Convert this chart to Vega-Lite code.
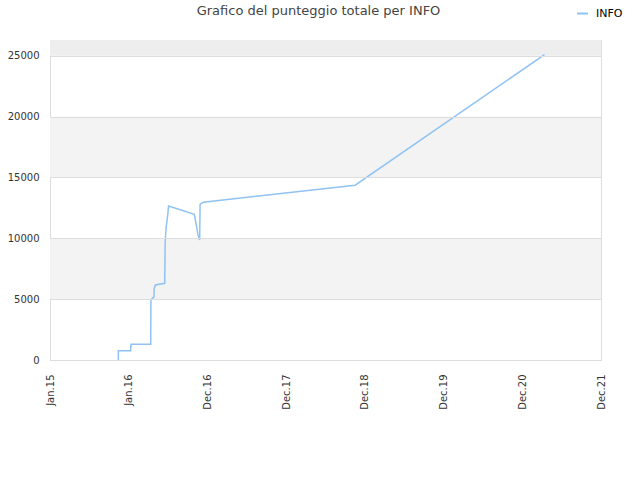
{
  "$schema": "https://vega.github.io/schema/vega-lite/v6.json",
  "autosize": "none",
  "width": 551,
  "height": 320,
  "padding": {"left": 50, "top": 40, "right": 39, "bottom": 120},
  "background": "white",
  "title": {
    "text": "Grafico del punteggio totale per INFO",
    "font": "DejaVu Sans",
    "fontSize": 13,
    "fontWeight": "normal",
    "color": "#444444",
    "baseline": "bottom",
    "offset": -24,
    "dx": -7
  },
  "datasets": {
    "bands": [
      {"lo": 5000, "hi": 10000, "tone": "light"},
      {"lo": 15000, "hi": 20000, "tone": "light"},
      {"lo": 25000, "hi": 26300, "tone": "dark"}
    ],
    "scores": [
      {"i": 1, "date": "2015-11-14", "score": 0, "series": "INFO"},
      {"i": 2, "date": "2015-11-14", "score": 765, "series": "INFO"},
      {"i": 3, "date": "2016-01-10", "score": 765, "series": "INFO"},
      {"i": 4, "date": "2016-01-10", "score": 1100, "series": "INFO"},
      {"i": 5, "date": "2016-01-12", "score": 1100, "series": "INFO"},
      {"i": 6, "date": "2016-01-12", "score": 1290, "series": "INFO"},
      {"i": 7, "date": "2016-04-12", "score": 1290, "series": "INFO"},
      {"i": 8, "date": "2016-04-13", "score": 4930, "series": "INFO"},
      {"i": 9, "date": "2016-04-21", "score": 5100, "series": "INFO"},
      {"i": 10, "date": "2016-04-27", "score": 5150, "series": "INFO"},
      {"i": 11, "date": "2016-04-28", "score": 5840, "series": "INFO"},
      {"i": 12, "date": "2016-05-04", "score": 6170, "series": "INFO"},
      {"i": 13, "date": "2016-06-16", "score": 6300, "series": "INFO"},
      {"i": 14, "date": "2016-06-18", "score": 9600, "series": "INFO"},
      {"i": 15, "date": "2016-06-22", "score": 10830, "series": "INFO"},
      {"i": 16, "date": "2016-06-29", "score": 11780, "series": "INFO"},
      {"i": 17, "date": "2016-07-04", "score": 12660, "series": "INFO"},
      {"i": 18, "date": "2016-10-31", "score": 11980, "series": "INFO"},
      {"i": 19, "date": "2016-11-11", "score": 10960, "series": "INFO"},
      {"i": 20, "date": "2016-11-17", "score": 10280, "series": "INFO"},
      {"i": 21, "date": "2016-11-25", "score": 9870, "series": "INFO"},
      {"i": 22, "date": "2016-11-27", "score": 12800, "series": "INFO"},
      {"i": 23, "date": "2016-12-12", "score": 12970, "series": "INFO"},
      {"i": 24, "date": "2018-11-16", "score": 14370, "series": "INFO"},
      {"i": 25, "date": "2021-04-12", "score": 25100, "series": "INFO"}
    ]
  },
  "layer": [
    {
      "data": {"name": "bands"},
      "transform": [{"filter": "datum.tone == 'light'"}],
      "mark": {"type": "rect", "color": "#f3f3f3"},
      "encoding": {
        "y": {"field": "lo", "type": "quantitative", "scale": {"domain": [0, 26300], "nice": false}},
        "y2": {"field": "hi"}
      }
    },
    {
      "data": {"name": "bands"},
      "transform": [{"filter": "datum.tone == 'dark'"}],
      "mark": {"type": "rect", "color": "#eeeeee"},
      "encoding": {
        "y": {"field": "lo", "type": "quantitative"},
        "y2": {"field": "hi"}
      }
    },
    {
      "data": {"name": "scores"},
      "mark": {"type": "line", "strokeWidth": 1.5, "interpolate": "linear"},
      "encoding": {
        "x": {
          "field": "date",
          "type": "temporal",
          "title": null,
          "scale": {
            "type": "utc",
            "domain": [
              {"year": 2015, "month": 1, "date": 1, "utc": true},
              {"year": 2021, "month": 12, "date": 30, "utc": true}
            ]
          },
          "axis": {
            "values": [
              {"year": 2015, "month": 1, "date": 1, "utc": true},
              {"year": 2016, "month": 1, "date": 1, "utc": true},
              {"year": 2016, "month": 12, "date": 31, "utc": true},
              {"year": 2017, "month": 12, "date": 31, "utc": true},
              {"year": 2018, "month": 12, "date": 31, "utc": true},
              {"year": 2019, "month": 12, "date": 31, "utc": true},
              {"year": 2020, "month": 12, "date": 30, "utc": true},
              {"year": 2021, "month": 12, "date": 30, "utc": true}
            ],
            "format": "%b.%y",
            "labelAngle": -90,
            "labelPadding": 14,
            "ticks": false,
            "grid": false,
            "domainColor": "#dddddd"
          }
        },
        "y": {
          "field": "score",
          "type": "quantitative",
          "title": null,
          "axis": {
            "values": [0, 5000, 10000, 15000, 20000, 25000],
            "format": "d",
            "ticks": false,
            "domain": false,
            "labelPadding": 11,
            "gridColor": "#dddddd",
            "zindex": 1
          }
        },
        "order": {"field": "i", "type": "quantitative"},
        "color": {
          "field": "series",
          "type": "nominal",
          "scale": {"domain": ["INFO"], "range": ["#90c2f3"]},
          "legend": {
            "title": null,
            "orient": "none",
            "legendX": 526,
            "legendY": -33,
            "symbolType": "stroke",
            "symbolSize": 121,
            "symbolStrokeWidth": 2,
            "labelOffset": 7,
            "labelFontSize": 11,
            "labelColor": "#000000"
          }
        }
      }
    }
  ],
  "config": {
    "font": "DejaVu Sans",
    "view": {"stroke": "#dddddd"},
    "axis": {"labelFont": "DejaVu Sans", "labelFontSize": 10, "labelColor": "#333333"},
    "legend": {"labelFont": "DejaVu Sans"}
  }
}
